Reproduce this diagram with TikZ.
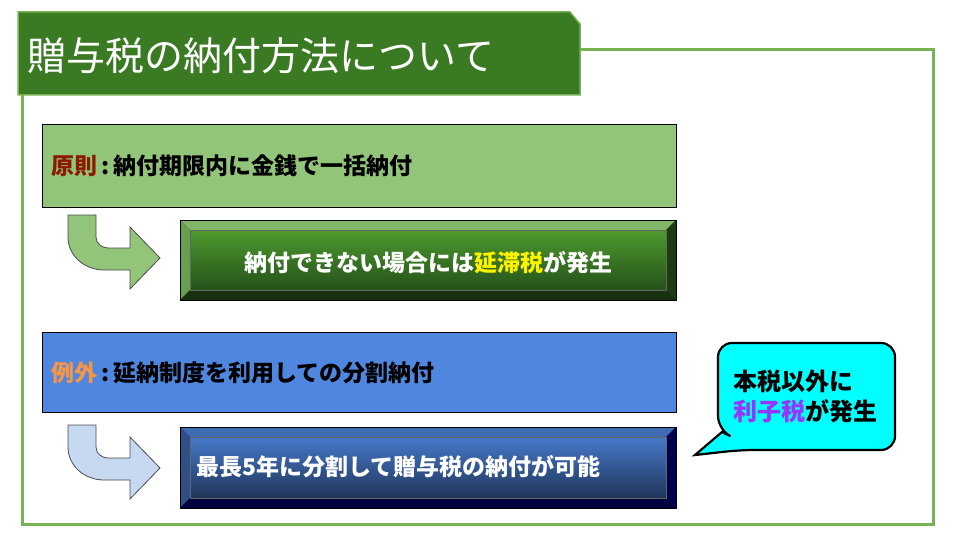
\documentclass[tikz,border=0pt]{standalone}
\usepackage{fontspec}
\setmainfont{Noto Sans CJK JP}
\definecolor{frameg}{HTML}{77B255}
\definecolor{titleg}{HTML}{3A7A22}
\definecolor{lightg}{HTML}{92C47A}
\definecolor{blueb}{HTML}{4F86E0}
\definecolor{redb}{HTML}{8B1A00}
\definecolor{orangeb}{HTML}{F79646}
\definecolor{purpleb}{HTML}{9933FF}
\definecolor{arrowb}{HTML}{C6D9F1}
\definecolor{cyanb}{HTML}{00FFFF}
\definecolor{g2top}{HTML}{4E9A2E}
\definecolor{g2bot}{HTML}{24511A}
\begin{document}
\begin{tikzpicture}[x=1pt,y=-1pt,
  mainbox/.style={draw=black,line width=1pt},
  lbl/.style={anchor=west,font=\bfseries\fontsize{23}{26}\selectfont},
  arr/.style={draw=black!70,line width=0.8pt}]
\useasboundingbox (0,0) rectangle (960,540);
% frame
\draw[frameg,line width=3pt] (580,50) -- (933,50) -- (933,524) -- (22,524) -- (22,95);
% title
\fill[titleg] (18,12) -- (570,12) -- (580,24) -- (580,95) -- (18,95) -- cycle;
\draw[frameg,line width=1.5pt] (18,12) -- (570,12) -- (580,24) -- (580,95) -- (18,95) -- cycle;
\node[anchor=west,text=white,font=\fontsize{39}{42}\selectfont] (title) at (24,56) {贈与税の納付方法について};
% box1
\draw[mainbox,fill=lightg] (42,125) rectangle (676,207);
\node[lbl] (t1) at (48,166) {\textcolor{redb}{原則}\,:\,納付期限内に金銭で一括納付};
% arrow
\def\bentarrow#1#2{%
\draw[arr,fill=#1] (68,#2) -- (96,#2) -- (96,#2+22) to[out=-90,in=180] (108,#2+33) -- (130,#2+33) -- (130,#2+12) -- (160,#2+43) -- (130,#2+74) -- (130,#2+55) -- (104,#2+55) to[out=180,in=-90] (68,#2+22) -- cycle;}
\bentarrow{lightg}{215}
% box2 bevel
\fill[g2bot] (180,220) rectangle (676,300);
\fill[lightg!80!titleg] (180,220) -- (676,220) -- (666,230) -- (190,230) -- cycle;
\fill[lightg!50!titleg] (180,220) -- (190,230) -- (190,290) -- (180,300) -- cycle;
\fill[titleg!50!black] (676,220) -- (676,300) -- (666,290) -- (666,230) -- cycle;
\fill[titleg!40!black] (180,300) -- (676,300) -- (666,290) -- (190,290) -- cycle;
\shade[top color=g2top,bottom color=g2bot] (190,230) rectangle (666,290);
\draw[black,line width=0.8pt] (180,220) rectangle (676,300);
\draw[black!60,line width=0.5pt] (190,230) rectangle (666,290);
\node[font=\bfseries\fontsize{23}{26}\selectfont,text=white] (t2) at (428,263) {納付できない場合には\textcolor{yellow}{延滞税}が発生};
% box3
\draw[mainbox,fill=blueb] (42,332) rectangle (676,412);
\node[lbl] (t3) at (48,373) {\textcolor{orangeb}{例外}\,:\,延納制度を利用しての分割納付};
% arrow2
\bentarrow{arrowb}{425}
% box4 bevel
\fill[blue!40!black] (180,427) rectangle (676,508);
\fill[blueb!80!black] (180,427) -- (676,427) -- (666,437) -- (190,437) -- cycle;
\fill[blueb!60!black] (180,427) -- (190,437) -- (190,498) -- (180,508) -- cycle;
\fill[blue!30!black] (676,427) -- (676,508) -- (666,498) -- (666,437) -- cycle;
\fill[blue!25!black] (180,508) -- (676,508) -- (666,498) -- (190,498) -- cycle;
\shade[top color=blueb!90!black,bottom color=blueb!40!black] (190,437) rectangle (666,498);
\draw[black,line width=0.8pt] (180,427) rectangle (676,508);
\draw[black!60,line width=0.5pt] (190,437) rectangle (666,498);
\node[anchor=west,font=\bfseries\fontsize{23}{26}\selectfont,text=white] (t4) at (193,467) {最長5年に分割して贈与税の納付が可能};
% callout
\draw[black,line width=2.2pt,fill=cyanb,rounded corners=14pt] (718,343) -- (895,343) -- (895,450) -- (740,450) [sharp corners]-- (695,455) -- (722,432) [rounded corners=14pt] -- (718,430) -- cycle;
\node[anchor=west,align=left,font=\bfseries\fontsize{24}{30}\selectfont] (t5) at (730,396) {本税以外に\\\textcolor{purpleb}{利子税}が発生};
\end{tikzpicture}
\end{document}
